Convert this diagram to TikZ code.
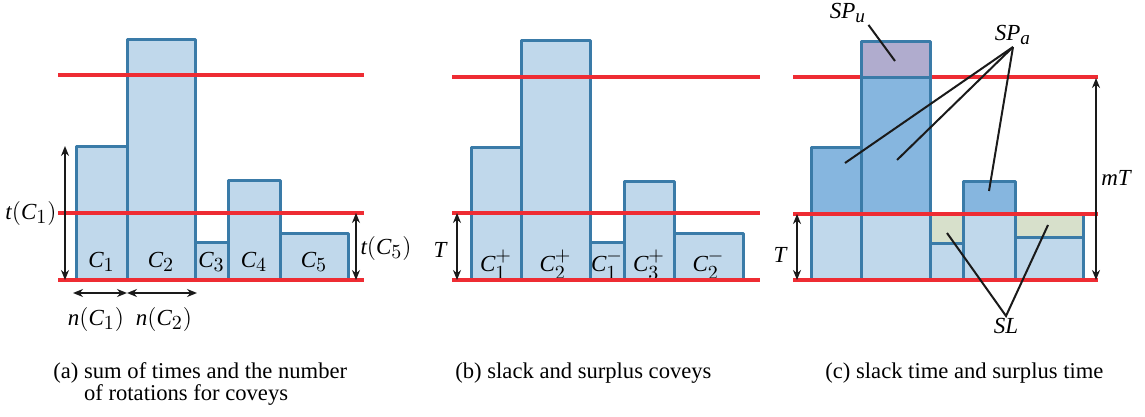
\documentclass[tikz,border=0pt]{standalone}
\usepackage{fontspec}
\setmainfont{Liberation Serif}
\usepackage[italic]{mathastext}
\usepackage{xcolor}
\usepackage{tikz}
\usetikzlibrary{arrows.meta}
\definecolor{BarFill}{HTML}{C0D8EB}
\definecolor{BarEdge}{HTML}{3A7BA8}
\definecolor{SurplusFill}{HTML}{86B6DF}
\definecolor{UnusedFill}{HTML}{B0ACCE}
\definecolor{SlackFill}{HTML}{D7E0CB}
\definecolor{LimitRed}{HTML}{EE2C33}
\definecolor{InkBlack}{HTML}{1A1A1A}
\newcommand{\slk}{\mathchar"2200}

\tikzset{
  bar/.style={fill=BarFill, draw=BarEdge, line width=1.5pt, line join=round},
  limit/.style={draw=LimitRed, line width=2pt},
  span/.style={draw=InkBlack, line width=1pt, {Stealth[length=5pt,width=4pt]}-{Stealth[length=5pt,width=4pt]}},
  leader/.style={draw=InkBlack, line width=1pt},
  lab/.style={font=\fontsize{11.5}{12}\selectfont, inner sep=1pt},
  captext/.style={font=\fontsize{11.3}{11}\selectfont, align=left, anchor=north west, inner sep=0pt}
}

\begin{document}
\begin{tikzpicture}[x=0.5pt, y=-0.5pt]
            \useasboundingbox (0,0) rectangle (1145,417);

            % (a) Bars
            \foreach \xa/\xb/\yt/\i in {76/127/146/1, 127/195/40/2, 195/228/242/3, 228/280/180/4, 280/348/233/5} {
                \draw[bar] (\xa,\yt) rectangle (\xb,280);
                \node[lab] (a-c\i) at ({(\xa+\xb)/2},262) {$C_{\i}$};
            }
            \foreach \yl in {75,213,280} {
                \draw[limit] (58,\yl) -- (364,\yl);
            }

            % (a) Spans
            \coordinate (a-l-top) at (65,146);
            \coordinate (a-l-bot) at (65,280);
            \coordinate (a-r-top) at (356,213);
            \coordinate (a-r-bot) at (356,280);
            \coordinate (a-n0) at (73,293);
            \coordinate (a-n1) at (127,293);
            \coordinate (a-n2) at (197,293);
            \draw[span] (a-l-top) -- (a-l-bot);
            \draw[span] (a-r-top) -- (a-r-bot);
            \draw[span] (a-n0) -- (a-n1);
            \draw[span] (a-n1) -- (a-n2);
            \node[lab] (a-tc1) at (31,213) {$t(C_1)$};
            \node[lab] (a-tc5) at (386,248) {$t(C_5)$};
            \node[lab] (a-nc1) at (96,319) {$n(C_1)$};
            \node[lab] (a-nc2) at (164,319) {$n(C_2)$};

            % (b) Bars
            \foreach \xa/\xb/\yt/\txt [count=\i] in {471/521/147/{C_1^+}, 521/590/41/{C_2^+}, 590/624/242/{C_1^\slk}, 624/674/181/{C_3^+}, 674/743/233/{C_2^\slk}} {
                \draw[bar] (\xa,\yt) rectangle (\xb,280);
                \node[lab] (b-c\i) at ({(\xa+\xb)/2},265) {$\txt$};
            }
            \foreach \yl in {77,213,280} {
                \draw[limit] (452,\yl) -- (760,\yl);
            }
            \coordinate (b-t-top) at (457,213);
            \coordinate (b-t-bot) at (457,280);
            \draw[span] (b-t-top) -- (b-t-bot);
            \node[lab] (b-t) at (440,250) {$T$};

            % (c) Bars
            \draw[limit] (793,77) -- (1098,77);
            \draw[bar] (811,214) rectangle (861,280);
            \draw[bar, fill=SurplusFill] (811,147) rectangle (861,214);
            \draw[bar] (861,214) rectangle (930,280);
            \draw[bar, fill=SurplusFill] (861,78) rectangle (930,214);
            \draw[bar, fill=UnusedFill] (861,42) rectangle (930,78);
            \draw[bar] (930,243) rectangle (963,280);
            \draw[bar, fill=SlackFill] (930,214) rectangle (963,243);
            \draw[bar] (963,214) rectangle (1015,280);
            \draw[bar, fill=SurplusFill] (963,181) rectangle (1015,214);
            \draw[bar] (1015,237) rectangle (1083,280);
            \draw[bar, fill=SlackFill] (1015,214) rectangle (1083,237);
            \foreach \yl in {214,280} {
                \draw[limit] (793,\yl) -- (1098,\yl);
            }

            % (c) Spans
            \coordinate (c-t-top) at (797,214);
            \coordinate (c-t-bot) at (797,280);
            \coordinate (c-m-top) at (1096,78);
            \coordinate (c-m-bot) at (1096,280);
            \draw[span] (c-t-top) -- (c-t-bot);
            \draw[span] (c-m-top) -- (c-m-bot);
            \node[lab] (c-t) at (780,255) {$T$};
            \node[lab] (c-mt) at (1116,178) {$mT$};

            % (c) Callouts
            \node[lab] (spu) at (848,13) {$SP_u$};
            \node[lab, anchor=south] (spa) at (1013,47) {$SP_a$};
            \node[lab, anchor=north] (sl) at (1006,316) {$SL$};
            \coordinate (spu-in) at (895,61);
            \coordinate (spa-in1) at (845,163);
            \coordinate (spa-in2) at (897,160);
            \coordinate (spa-in3) at (989,191);
            \coordinate (sl-in1) at (947,233);
            \coordinate (sl-in2) at (1048,225);
            \draw[leader] (spu.south east) -- (spu-in);
            \foreach \k in {1,2,3} {
                \draw[leader] (spa.south) -- (spa-in\k);
            }
            \draw[leader] (sl-in1) -- (sl.north) -- (sl-in2);

            % Captions
            \node[captext] (cap-a) at (53,362) {(a) sum of times and the number\\\phantom{(a) }of rotations for coveys};
            \node[captext] (cap-b) at (455,362) {(b) slack and surplus coveys};
            \node[captext] (cap-c) at (825,362) {(c) slack time and surplus time};
        \end{tikzpicture}
\end{document}
